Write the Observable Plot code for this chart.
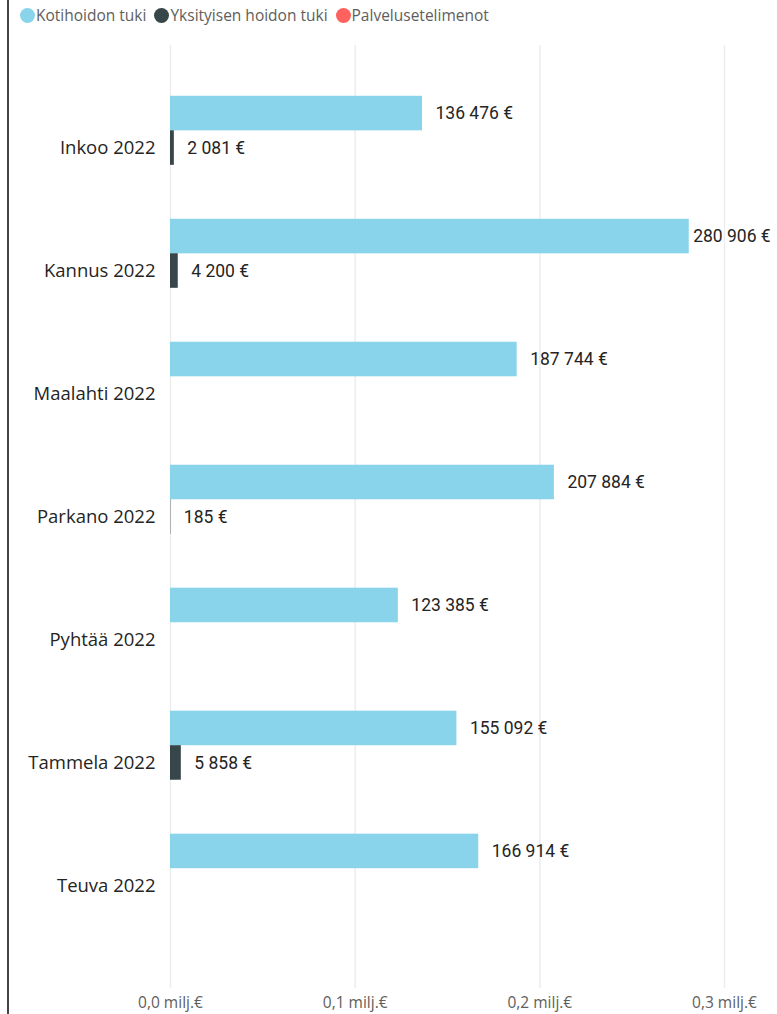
<!DOCTYPE html>
<html>
<head>
<meta charset="utf-8">
<script src="https://cdn.jsdelivr.net/npm/d3@7"></script>
<script src="https://cdn.jsdelivr.net/npm/@observablehq/plot@0.6"></script>
<style>
  html, body { margin: 0; padding: 0; background: #fff; }
  #page { position: relative; width: 777px; height: 1014px; overflow: hidden; }
  #border { position: absolute; left: 7px; top: 0; width: 2px; height: 1014px; background: #444; }
  #legend { position: absolute; left: 20px; top: 5px; height: 20px; display: flex; align-items: center;
            font-family: "Open Sans", sans-serif; font-size: 15.5px; color: #605E5C; white-space: nowrap; }
  .item { display: flex; align-items: center; margin-right: 8px; }
  .dot { width: 15px; height: 15px; border-radius: 50%; margin-right: 1px; }
  #chart { position: absolute; left: 0; top: 30px; }
</style>
</head>
<body>
<div id="page">
  <div id="border"></div>
  <div id="legend"></div>
  <div id="chart"></div>
</div>
<script>
const categories = ["Inkoo 2022", "Kannus 2022", "Maalahti 2022", "Parkano 2022", "Pyhtää 2022", "Tammela 2022", "Teuva 2022"];
const seriesNames = ["Kotihoidon tuki", "Yksityisen hoidon tuki", "Palvelusetelimenot"];
const kotihoidonTuki = [136476, 280906, 187744, 207884, 123385, 155092, 166914];
const yksityisenHoidonTuki = [2081, 4200, null, 185, null, 5858, null];
const palvelusetelimenot = [null, null, null, null, null, null, null];
const seriesColors = ["#8AD4EB", "#374649", "#FD625E"];
const xTicks = [0, 100000, 200000, 300000];

const seriesValues = [kotihoidonTuki, yksityisenHoidonTuki, palvelusetelimenot];

// legend
const legend = document.getElementById("legend");
seriesNames.forEach((name, i) => {
  const item = document.createElement("div");
  item.className = "item";
  const dot = document.createElement("div");
  dot.className = "dot";
  dot.style.background = seriesColors[i];
  const label = document.createElement("span");
  label.textContent = name;
  item.appendChild(dot);
  item.appendChild(label);
  legend.appendChild(item);
});

const rows = [];
seriesValues.forEach((vals, s) => {
  vals.forEach((v, c) => {
    if (v != null) rows.push({category: categories[c], series: seriesNames[s], s, value: v});
  });
});

const sub = 34.5; // height of one sub-bar within a group
const fmtValue = v => d3.format(",")(v).replace(/,/g, " ") + " €";
const fmtTick = v => (v / 1e6).toFixed(1).replace(".", ",") + " milj.€";
const labelLimit = 276000; // Power BI pulls labels in near the right edge

const marks = [
  Plot.ruleX(xTicks, {stroke: "#ededed", strokeWidth: 1.5})
];
seriesNames.forEach((name, s) => {
  const data = rows.filter(d => d.s === s);
  marks.push(
    Plot.barX(data, {
      x: "value", y: "category", fill: seriesColors[s],
      insetTop: s * sub, insetBottom: (2 - s) * sub
    }),
    Plot.text(data, {
      x: d => Math.min(d.value, labelLimit), y: "category", text: d => fmtValue(d.value),
      textAnchor: "start", dx: 13, dy: (s - 1) * sub,
      fill: "#252423", fontSize: 17.5, fontFamily: "Roboto, sans-serif"
    })
  );
});
marks.push(
  Plot.axisY({tickSize: 0, tickPadding: 15, fontSize: 18.5, color: "#252423", label: null}),
  Plot.axisX({ticks: xTicks, tickSize: 0, tickPadding: 8, tickFormat: fmtTick, fontSize: 15.5, color: "#605E5C", label: null})
);

const chart = Plot.plot({
  width: 777,
  height: 984,
  marginLeft: 170,
  marginRight: 53,
  marginTop: 15,
  marginBottom: 26,
  style: {fontFamily: "'Open Sans', sans-serif", background: "transparent", overflow: "visible"},
  x: {domain: [0, 300000]},
  y: {domain: categories, paddingInner: 0.158, paddingOuter: 0.413, round: false},
  marks
});
document.getElementById("chart").appendChild(chart);
</script>
</body>
</html>
